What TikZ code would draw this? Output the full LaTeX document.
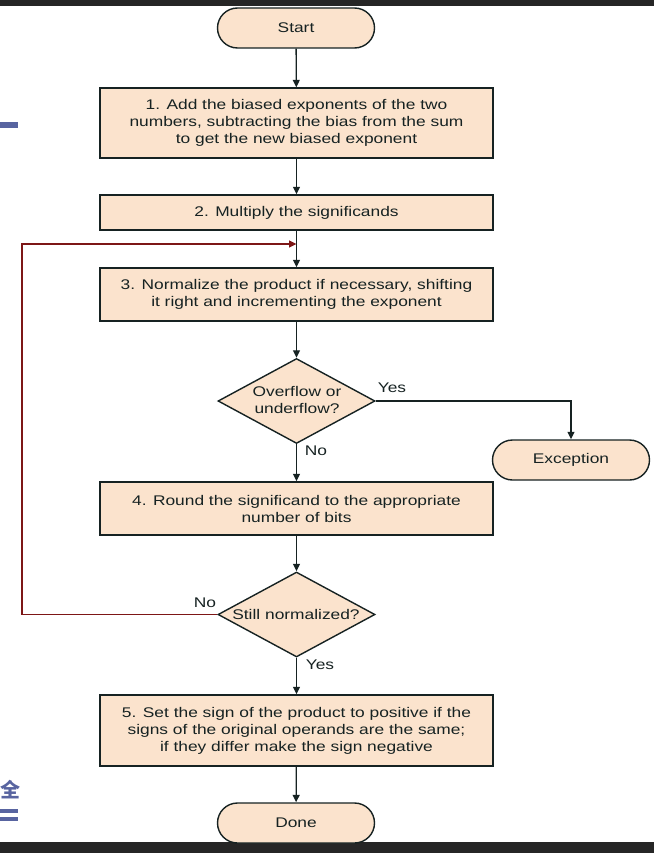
\documentclass[tikz,border=0pt]{standalone}
\usepackage{fontspec}
\setmainfont{Liberation Sans}[FakeStretch=1.24]
\newfontfamily\cjkfont{Noto Sans CJK SC}
\usetikzlibrary{shapes.geometric,shapes.misc,arrows.meta}
\definecolor{peach}{RGB}{251,227,205}
\definecolor{edge}{RGB}{22,34,34}
\definecolor{loopred}{RGB}{125,22,22}
\definecolor{slate}{RGB}{88,100,160}
\definecolor{barcol}{RGB}{38,38,38}
\begin{document}
\begin{tikzpicture}[x=1pt,y=-1pt,
  every node/.style={font=\fontsize{14}{17}\selectfont, text=edge},
  stepbox/.style={draw=edge, line width=1.4pt, fill=peach, minimum width=393pt, align=center, inner sep=0pt},
  term/.style={rounded rectangle, draw=edge, line width=1.4pt, fill=peach, minimum width=157pt, minimum height=40pt, inner sep=0pt},
  dia/.style={diamond, draw=edge, line width=1.4pt, fill=peach, minimum width=157pt, minimum height=85pt, inner sep=0pt},
  arr/.style={draw=edge, line width=1.3pt, -{Triangle[width=7pt,length=7.5pt]}},
  lbl/.style={inner sep=0pt, align=center}
]
\useasboundingbox (0,0) rectangle (654,853);
% slide artefacts
\fill[barcol] (0,0) rectangle (654,6);
\fill[barcol] (0,842) rectangle (654,853);
\fill[slate] (0,122) rectangle (18,128);
\fill[slate] (0,809) rectangle (18,813);
\fill[slate] (0,817) rectangle (18,821);
\node[text=slate, font=\cjkfont\fontsize{20}{20}\selectfont\bfseries, inner sep=0pt] (glyph) at (11,790) {全};

\node[term] (start) at (296,28) {Start};
\node[stepbox, minimum height=70pt] (s1) at (296.5,123) {1. Add the biased exponents of the two\\numbers, subtracting the bias from the sum\\to get the new biased exponent};
\node[stepbox, minimum height=35pt] (s2) at (296.5,212.5) {2. Multiply the significands};
\node[stepbox, minimum height=53pt] (s3) at (296.5,294.5) {3. Normalize the product if necessary, shifting\\it right and incrementing the exponent};
\node[dia] (d1) at (296.5,401) {};
\node[lbl] (d1t) at (297,400) {Overflow or\\underflow?};
\node[term] (exc) at (571,460) {Exception};
\node[stepbox, minimum height=53pt] (s4) at (296.5,508.5) {4. Round the significand to the appropriate\\number of bits};
\node[dia] (d2) at (296.5,614.5) {};
\node[lbl] (d2t) at (296,614) {Still normalized?};
\node[stepbox, minimum height=71pt] (s5) at (296.5,730.5) {5. Set the sign of the product to positive if the\\signs of the original operands are the same;\\if they differ make the sign negative};
\node[term] (done) at (296,823) {Done};

\coordinate (join) at (296.5,244);
\coordinate (lft) at (22,614.5);

\draw[arr] (start) -- (s1);
\draw[arr] (s1) -- (s2);
\draw[arr] (s2) -- (s3);
\draw[arr] (s3) -- (d1);
\draw[arr] (d1.east) -| (exc.north);
\draw[arr] (d1) -- (s4);
\draw[arr] (s4) -- (d2);
\draw[arr] (d2) -- (s5);
\draw[arr] (s5) -- (done);
\draw[arr, draw=loopred] (d2.west) -- (lft) |- (join);

\node[lbl] (yes1) at (392,388) {Yes};
\node[lbl] (no1) at (316,451) {No};
\node[lbl] (no2) at (205,603) {No};
\node[lbl] (yes2) at (320,665) {Yes};
\end{tikzpicture}
\end{document}
